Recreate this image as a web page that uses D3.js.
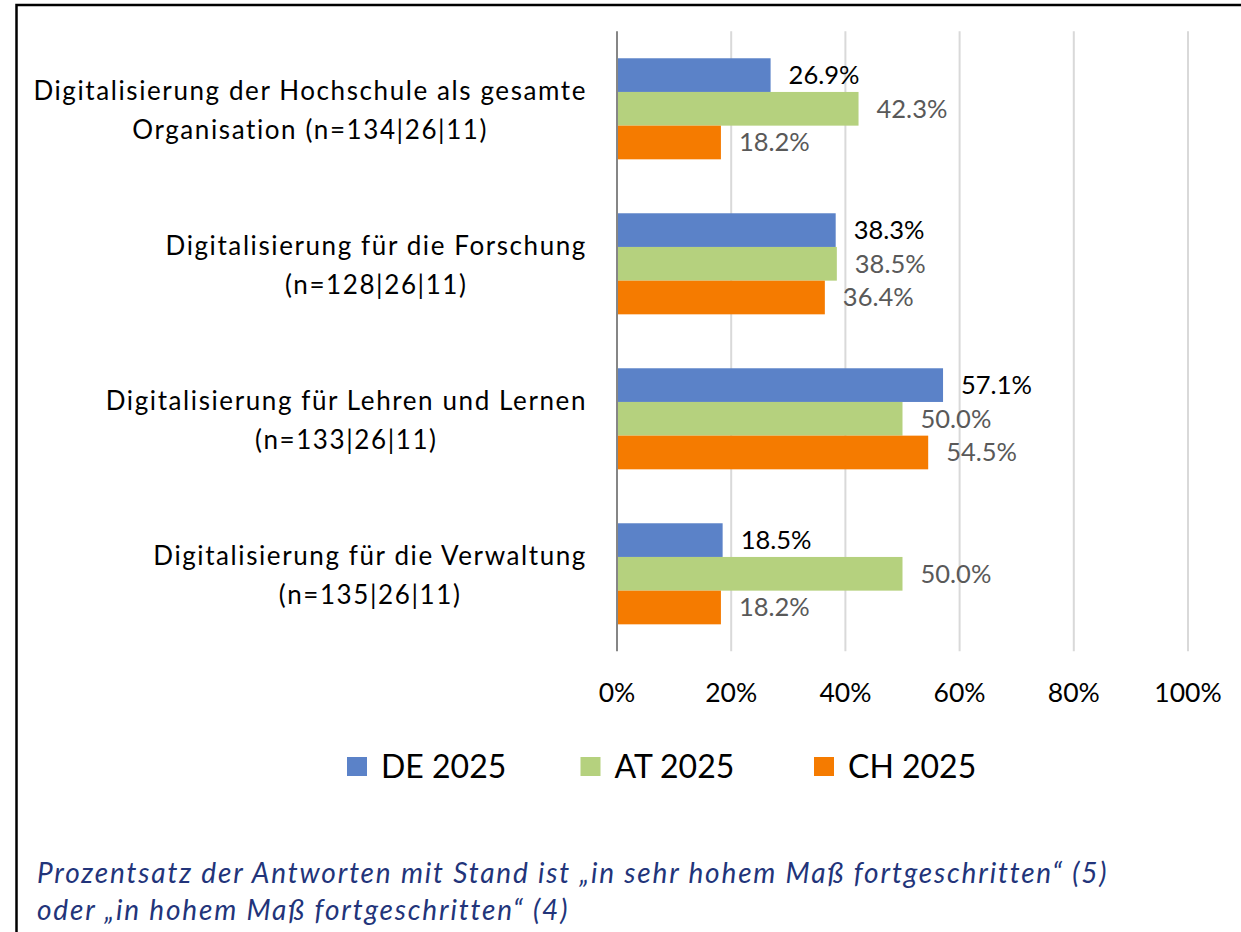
<!DOCTYPE html>
<html>
<head>
<meta charset="utf-8">
<title>Digitalisierung 2025</title>
<script src="https://cdnjs.cloudflare.com/ajax/libs/d3/7.8.5/d3.min.js"></script>
<style>
  body { margin: 0; background: #fff; }
  svg text { font-family: Lato, "Noto Sans", sans-serif; }
</style>
</head>
<body>
<div id="chart"></div>
<script>
// --- data ---
var categories = [
  ["Digitalisierung der Hochschule als gesamte", "Organisation (n=134|26|11)"],
  ["Digitalisierung für die Forschung", "(n=128|26|11)"],
  ["Digitalisierung für Lehren und Lernen", "(n=133|26|11)"],
  ["Digitalisierung für die Verwaltung", "(n=135|26|11)"]
];
var series = ["DE 2025", "AT 2025", "CH 2025"];
var seriesColors = ["#5B82C8", "#B5D17E", "#F57B00"];
var labelColors = ["#000000", "#595959", "#595959"];
var valuesDE = [0.269, 0.383, 0.571, 0.185];
var valuesAT = [0.423, 0.385, 0.500, 0.500];
var valuesCH = [0.182, 0.364, 0.545, 0.182];
var xTicks = [0, 0.2, 0.4, 0.6, 0.8, 1.0];
var caption = [
  "Prozentsatz der Antworten mit Stand ist \u201Ein sehr hohem Maß fortgeschritten\u201C (5)",
  "oder \u201Ein hohem Maß fortgeschritten\u201C (4)"
];

var W = 1241, H = 932;
var allValues = [valuesDE, valuesAT, valuesCH];

// spread letters of a text node so that it reaches a given width
function spacingFor(node, target) {
  var w = node.getComputedTextLength();
  var n = node.textContent.length;
  return (target - w) / (n - 1);
}

var svg = d3.select("#chart").append("svg").attr("width", W).attr("height", H);

// outer frame (only left and top edges visible)
svg.append("path").attr("d", "M16.5," + H + "V5H" + W)
   .attr("fill", "none").attr("stroke", "#000").attr("stroke-width", 2.5);

var x = d3.scaleLinear().domain([0, 1]).range([617, 1188]);
var catIdx = d3.range(categories.length);
var y = d3.scaleBand().domain(catIdx).range([31.3, 651.3]).paddingInner(0.348).paddingOuter(0.174);
var ySub = d3.scaleBand().domain(d3.range(series.length)).range([0, y.bandwidth()]);

// gridlines
svg.append("g").selectAll("line").data(xTicks.slice(1)).join("line")
   .attr("x1", function(d) { return x(d); }).attr("x2", function(d) { return x(d); })
   .attr("y1", y.range()[0]).attr("y2", y.range()[1])
   .attr("stroke", "#D9D9D9").attr("stroke-width", 2);

// bars
var rows = [];
catIdx.forEach(function(c) {
  series.forEach(function(s, si) {
    rows.push({c: c, s: si, v: allValues[si][c]});
  });
});

svg.append("g").selectAll("rect").data(rows).join("rect")
   .attr("x", x(0))
   .attr("y", function(d) { return y(d.c) + ySub(d.s); })
   .attr("width", function(d) { return x(d.v) - x(0); })
   .attr("height", ySub.bandwidth())
   .attr("fill", function(d) { return seriesColors[d.s]; });

// value labels
svg.append("g").selectAll("text").data(rows).join("text")
   .attr("x", function(d) { return x(d.v) + 18; })
   .attr("y", function(d) { return y(d.c) + ySub(d.s) + ySub.bandwidth() / 2 + 9; })
   .attr("font-size", 25.5)
   .attr("fill", function(d) { return labelColors[d.s]; })
   .text(function(d) { return (d.v * 100).toFixed(1) + "%"; });

// axis line at 0
svg.append("line").attr("x1", x(0)).attr("x2", x(0))
   .attr("y1", y.range()[0]).attr("y2", y.range()[1])
   .attr("stroke", "#868686").attr("stroke-width", 2);

// x tick labels
svg.append("g").selectAll("text").data(xTicks).join("text")
   .attr("x", function(d) { return x(d); })
   .attr("y", 702)
   .attr("text-anchor", "middle")
   .attr("font-size", 26.5)
   .attr("fill", "#000")
   .text(d3.format(".0%"));

// category labels: block right-aligned, lines centred inside the block
var catG = svg.append("g").selectAll("g").data(catIdx).join("g");
var catText = catG.selectAll("text").data(function(c) { return categories[c]; }).join("text")
   .attr("font-size", 26)
   .attr("fill", "#000")
   .attr("text-anchor", "middle")
   .text(function(d) { return d; });
var catSpacing = spacingFor(catText.node(), 552);
catText.attr("letter-spacing", catSpacing);
catG.each(function(c) {
  var lines = d3.select(this).selectAll("text")
     .attr("y", function(d, i) { return y(c) + y.bandwidth() / 2 - 8.5 + i * 38.5; });
  var maxW = d3.max(lines.nodes(), function(n) { return n.getComputedTextLength(); });
  lines.attr("x", 587 - maxW / 2);
});

// legend
var legend = svg.append("g").selectAll("g").data(series).join("g")
   .attr("transform", function(d, i) { return "translate(" + (347 + i * 233.5) + ",0)"; });
legend.append("rect").attr("x", 0).attr("y", 757).attr("width", 20).attr("height", 19)
   .attr("fill", function(d, i) { return seriesColors[i]; });
legend.append("text").attr("x", 34).attr("y", 778)
   .attr("font-size", 32).attr("fill", "#000")
   .text(function(d) { return d; });

// caption
var capText = svg.append("g").selectAll("text").data(caption).join("text")
   .attr("x", 37).attr("y", function(d, i) { return 883 + i * 37; })
   .attr("font-size", 28).attr("font-style", "italic").attr("fill", "#22347A")
   .text(function(d) { return d; });
capText.attr("letter-spacing", spacingFor(capText.node(), 1068));
</script>
</body>
</html>
